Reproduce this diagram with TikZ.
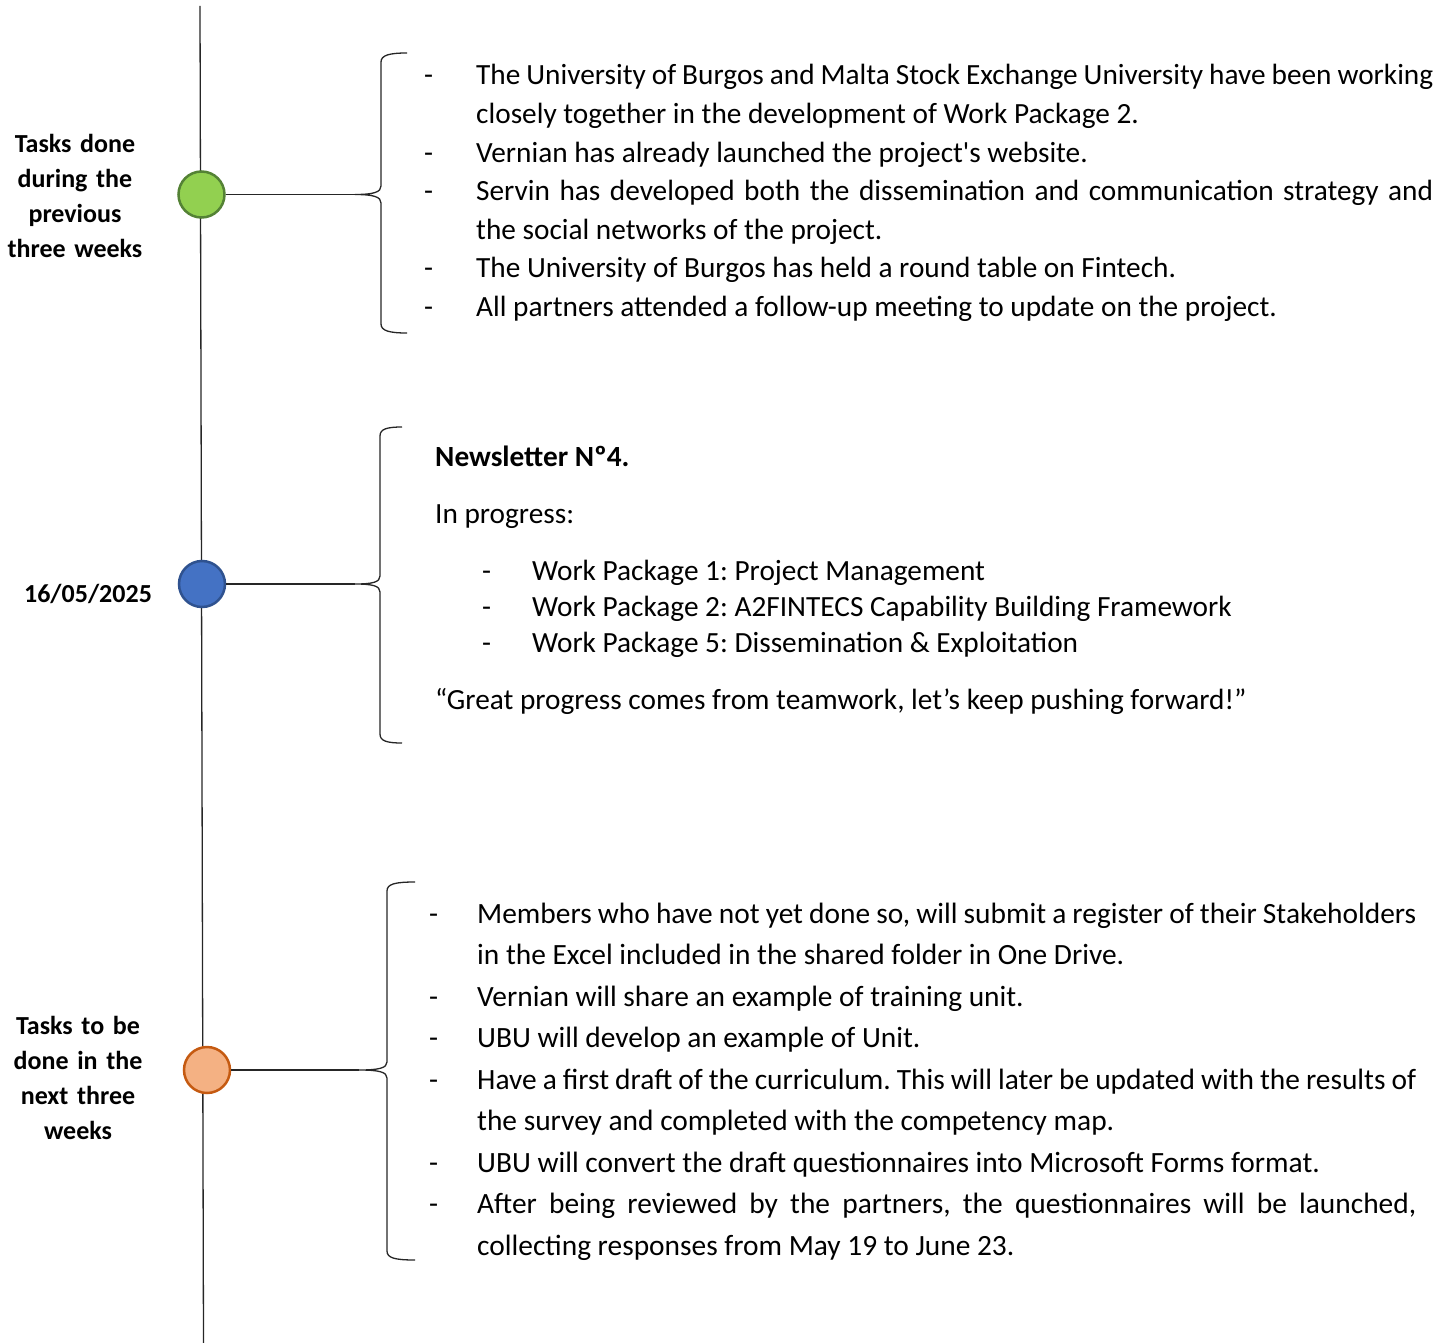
\documentclass[tikz,border=0pt]{standalone}
\usepackage{fontspec}
\setmainfont{Carlito}[Ligatures=TeXOff]
\newcommand{\dashitem}[2]{\noindent\hangindent=#1\hangafter=1\makebox[#1][l]{-}#2\par}
\tolerance=10000 \hbadness=10000 \hfuzz=20pt
\frenchspacing
\begin{document}
\begin{tikzpicture}[x=1pt,y=-1pt]
\tikzset{
  tline/.style={line width=1.3pt, draw=black!85},
  dot/.style={circle, minimum size=46pt, inner sep=0pt, line width=2.5pt},
  brc/.style={line width=1.3pt, draw=black!85},
  lbl/.style={font=\bfseries\fontsize{26}{35}\selectfont, text width=170pt, align=center, anchor=base, inner sep=0pt},
  body/.style={anchor=base west, inner sep=0pt, align=justify, execute at begin node=\frenchspacing},
  line1/.style={anchor=base west, inner sep=0pt, font=\fontsize{29.3}{36}\selectfont},
}
\definecolor{gfill}{HTML}{92D050}\definecolor{gdraw}{HTML}{548235}
\definecolor{bfill}{HTML}{4472C4}\definecolor{bdraw}{HTML}{2F528F}
\definecolor{ofill}{HTML}{F4B183}\definecolor{odraw}{HTML}{C55A11}
\useasboundingbox (0,0) rectangle (1451,1343);

% timeline
\coordinate (top) at (200,6);
\coordinate (bot) at (203.5,1343);
\draw[tline] (top) -- (bot);

% brace tips
\coordinate (t1) at (355,194.5);
\coordinate (t2) at (355,584);
\coordinate (t3) at (359,1070);

% circles
\node[dot, fill=gfill, draw=gdraw] (c1) at (201.5,194.5) {};
\node[dot, fill=bfill, draw=bdraw] (c2) at (202,584) {};
\node[dot, fill=ofill, draw=odraw] (c3) at (207,1070) {};

\draw[tline] (c1.east) -- (t1);
\draw[tline] (c2.east) -- (t2);
\draw[tline] (c3.east) -- (t3);

% braces
\draw[brc] (407,53) .. controls (390,53) and (381,55) .. (381,62) -- (381,186)
  .. controls (381,192) and (374,194.5) .. (t1)
  .. controls (374,194.5) and (381,197) .. (381,203) -- (381,324)
  .. controls (381,331) and (390,333) .. (407,333);
\draw[brc] (402,427) .. controls (387,427) and (380,429) .. (380,436) -- (380,576)
  .. controls (380,582) and (373,584) .. (t2)
  .. controls (373,584) and (380,586) .. (380,592) -- (380,734)
  .. controls (380,741) and (387,743) .. (402,743);
\draw[brc] (415,882) .. controls (395,882) and (387,884) .. (387,891) -- (387,1062)
  .. controls (387,1068) and (379,1070) .. (t3)
  .. controls (379,1070) and (387,1072) .. (387,1078) -- (387,1251)
  .. controls (387,1258) and (395,1260) .. (415,1260);

% left labels
\node[lbl] (l1) at (75,153) {Tasks done\\during the\\previous\\three weeks};
\node[lbl] (l2) at (88,602) {16/05/2025};
\node[lbl] (l3) at (78,1034) {Tasks to be\\done in the\\next three\\weeks};

% block 1
\node[body, text width=1009pt, font=\fontsize{29.3}{38.6}\selectfont] (b1) at (424,85) {%
\dashitem{52pt}{The University of Burgos and Malta Stock Exchange University have been working\linebreak closely together in the development of Work Package 2.}%
\dashitem{52pt}{Vernian has already launched the project's website.}%
\dashitem{52pt}{Servin has developed both the dissemination and communication strategy and\linebreak the social networks of the project.}%
\dashitem{52pt}{The University of Burgos has held a round table on Fintech.}%
\dashitem{52pt}{All partners attended a follow-up meeting to update on the project.}};

% block 2
\node[line1, font=\bfseries\fontsize{29.3}{36}\selectfont] (nl) at (435,466) {Newsletter Nº4.};
\node[line1] (ip) at (435,523) {In progress:};
\node[body, text width=900pt, font=\fontsize{29.3}{36}\selectfont] (b2) at (482,580.3) {%
\dashitem{50pt}{Work Package 1: Project Management}%
\dashitem{50pt}{Work Package 2: A2FINTECS Capability Building Framework}%
\dashitem{50pt}{Work Package 5: Dissemination \& Exploitation}};
\node[line1] (qt) at (435,709) {“Great progress comes from teamwork, let’s keep pushing forward!”};

% block 3
\node[body, text width=987pt, font=\fontsize{29.4}{41.5}\selectfont] (b3) at (429,923) {%
\dashitem{48pt}{Members who have not yet done so, will submit a register of their Stakeholders\linebreak in the Excel included in the shared folder in One Drive.}%
\dashitem{48pt}{Vernian will share an example of training unit.}%
\dashitem{48pt}{UBU will develop an example of Unit.}%
\dashitem{48pt}{Have a first draft of the curriculum. This will later be updated with the results of\linebreak the survey and completed with the competency map.}%
\dashitem{48pt}{UBU will convert the draft questionnaires into Microsoft Forms format.}%
\dashitem{48pt}{After being reviewed by the partners, the questionnaires will be launched,\linebreak collecting responses from May 19 to June 23.}};
\end{tikzpicture}
\end{document}
